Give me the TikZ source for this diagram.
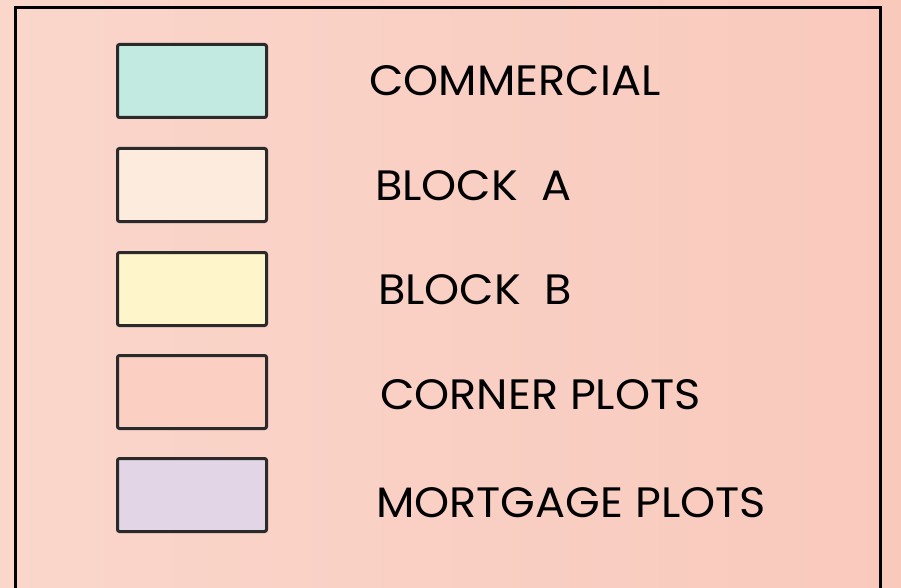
\documentclass[tikz,border=0pt]{standalone}
\usepackage{fontspec}
\setmainfont{Poppins}[FakeStretch=1.05]
\definecolor{bgL}{HTML}{FAD6CB}
\definecolor{bgR}{HTML}{F9C9BC}
\definecolor{cComm}{HTML}{C3EAE0}
\definecolor{cBlkA}{HTML}{FDEBDD}
\definecolor{cBlkB}{HTML}{FEF5CA}
\definecolor{cCorn}{HTML}{FCCFC3}
\definecolor{cMort}{HTML}{E2D5E6}
\definecolor{edge}{HTML}{2A2A2A}
\tikzset{
  swatch/.style={draw=edge, line width=3pt, rounded corners=2pt, minimum width=149pt, minimum height=73pt, inner sep=0pt, anchor=north west},
  lbl/.style={anchor=base west, inner sep=0pt, font=\fontsize{42.5}{42.5}\selectfont, text=black},
}
\begin{document}
\begin{tikzpicture}[x=1pt,y=-1pt]
\useasboundingbox (0,0) rectangle (901,588);
\shade[left color=bgL, right color=bgR] (0,0) rectangle (901,588);
\draw[line width=3pt] (15,640) -- (15,8) -- (880,8) -- (880,640);
\node[swatch, fill=cComm] (s1) at (116,43) {};
\node[swatch, fill=cBlkA] (s2) at (116,147) {};
\node[swatch, fill=cBlkB] (s3) at (116,251) {};
\node[swatch, fill=cCorn] (s4) at (116,354) {};
\node[swatch, fill=cMort] (s5) at (116,457) {};
\node[lbl] (t1) at (369,96) {COMMERCIAL};
\node[lbl] (t2) at (375,200) {BLOCK\ \ A};
\node[lbl] (t3) at (378,304) {BLOCK\ \ B};
\node[lbl] (t4) at (380,409) {CORNER PLOTS};
\node[lbl] (t5) at (376,517) {MORTGAGE PLOTS};
\end{tikzpicture}
\end{document}
